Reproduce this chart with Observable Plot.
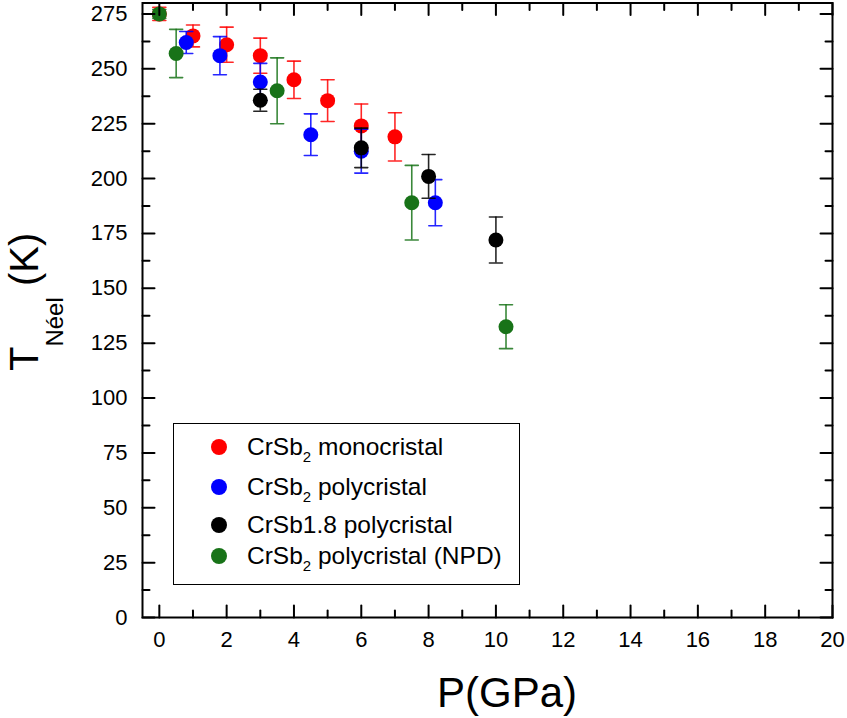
<!DOCTYPE html>
<html><head><meta charset="utf-8">
<script src="https://cdn.jsdelivr.net/npm/d3@7"></script>
<script src="https://cdn.jsdelivr.net/npm/@observablehq/plot@0.6"></script>
<style>
body{margin:0;background:#fff;font-family:"Liberation Sans",Arial,sans-serif;}
#wrap{position:relative;width:847px;height:718px;overflow:hidden;}
#wrap svg{position:absolute;left:0;top:0;}
#legend{position:absolute;left:173px;top:423px;width:347px;height:162px;border:1.2px solid #000;box-sizing:border-box;background:#fff;}
.row{position:absolute;left:0;width:100%;height:0;}
.sw{position:absolute;left:37px;top:-8px;width:16px;height:16px;border-radius:50%;}
.lab{position:absolute;left:73px;top:-14px;white-space:nowrap;font-size:24.5px;line-height:28px;color:#000;}
.lab sub{font-size:15px;vertical-align:-7px;line-height:0;}
</style></head><body><div id="wrap"></div>
<script>
// ---- data ----
const seriesNames = ["CrSb2 monocristal","CrSb2 polycristal","CrSb1.8 polycristal","CrSb2 polycristal (NPD)"];
const legendBase = ["CrSb","CrSb","CrSb1.8","CrSb"];
const legendSub  = ["2","2","","2"];
const legendRest = [" monocristal"," polycristal"," polycristal"," polycristal (NPD)"];
const seriesColors = ["#ff0000","#0000ff","#000000","#187318"];

const monoP   = [0, 1, 2, 3, 4, 5, 6, 7];
const monoT   = [275, 265, 261, 256, 245, 235.5, 224, 219];
const monoErr = [3, 5, 8, 8, 8.5, 9.5, 10, 11];

const polyP   = [0.8, 1.8, 3, 4.5, 6, 8.2];
const polyT   = [262, 256, 244, 220, 212.5, 189];
const polyErr = [5, 8.7, 8.5, 9.5, 10, 10.5];

const sb18P   = [3, 6, 8, 10];
const sb18T   = [235.7, 214, 201, 172];
const sb18Err = [5, 9, 10, 10.5];

const npdP    = [0, 0.5, 3.5, 7.5, 10.3];
const npdT    = [275, 257, 240, 189, 132.5];
const npdErr  = [2, 11, 15, 17, 10];

const xTicks = [0,2,4,6,8,10,12,14,16,18,20];
const xMinor = [1,3,5,7,9,11,13,15,17,19];
const yTicks = [0,25,50,75,100,125,150,175,200,225,250,275];
const yMinor = [12.5,37.5,62.5,87.5,112.5,137.5,162.5,187.5,212.5,237.5,262.5];

// ---- build ----
const seriesP = [monoP, polyP, sb18P, npdP];
const seriesT = [monoT, polyT, sb18T, npdT];
const seriesE = [monoErr, polyErr, sb18Err, npdErr];

const line = {draw(ctx, l){ ctx.moveTo(0,0); ctx.lineTo(0,-l); }};

const marks = [];
seriesNames.forEach((name, s) => {
  const rows = seriesP[s].map((p, i) => ({p, t: seriesT[s][i], lo: seriesT[s][i] - seriesE[s][i], hi: seriesT[s][i] + seriesE[s][i]}));
  const c = seriesColors[s];
  marks.push(Plot.ruleX(rows, {x: "p", y1: "lo", y2: "hi", stroke: c, strokeWidth: 1.6, strokeOpacity: 0.85}));
  marks.push(Plot.vector(rows, {x: "p", y: "lo", rotate: 90, length: 13, anchor: "middle", shape: line, stroke: c, strokeWidth: 1.6, strokeOpacity: 0.85}));
  marks.push(Plot.vector(rows, {x: "p", y: "hi", rotate: 90, length: 13, anchor: "middle", shape: line, stroke: c, strokeWidth: 1.6, strokeOpacity: 0.85}));
  marks.push(Plot.dot(rows, {x: "p", y: "t", r: 7.5, fill: c, stroke: "none"}));
});

const tickStyle = {shape: line, anchor: "start", stroke: "#000", strokeWidth: 2};
const plot = Plot.plot({
  width: 847, height: 718,
  marginLeft: 142, marginRight: 15, marginTop: 2.5, marginBottom: 101,
  style: {fontFamily: "'Liberation Sans', Arial, sans-serif", background: "#fff"},
  x: {domain: [-0.5, 20], label: null},
  y: {domain: [0, 280], label: null},
  marks: [
    ...marks,
    // ticks, inward on all four sides
    Plot.vector(xTicks, {x: d => d, frameAnchor: "bottom", rotate: 0, length: 12, ...tickStyle}),
    Plot.vector(xMinor, {x: d => d, frameAnchor: "bottom", rotate: 0, length: 7, ...tickStyle}),
    Plot.vector(xTicks, {x: d => d, frameAnchor: "top", rotate: 180, length: 12, ...tickStyle}),
    Plot.vector(xMinor, {x: d => d, frameAnchor: "top", rotate: 180, length: 7, ...tickStyle}),
    Plot.vector(yTicks, {y: d => d, frameAnchor: "left", rotate: 90, length: 12, ...tickStyle}),
    Plot.vector(yMinor, {y: d => d, frameAnchor: "left", rotate: 90, length: 7, ...tickStyle}),
    Plot.vector(yTicks, {y: d => d, frameAnchor: "right", rotate: -90, length: 12, ...tickStyle}),
    Plot.vector(yMinor, {y: d => d, frameAnchor: "right", rotate: -90, length: 7, ...tickStyle}),
    Plot.axisX({ticks: xTicks, tickSize: 0, tickPadding: 14, fontSize: 22, label: null, tickFormat: d => String(d)}),
    Plot.axisY({ticks: yTicks, tickSize: 0, tickPadding: 15, fontSize: 22, label: null, tickFormat: d => String(d)}),
    Plot.frame({stroke: "#000", strokeWidth: 2})
  ]
});
document.getElementById("wrap").appendChild(plot);

// axis titles (with subscript)
const svg = d3.select(plot);
svg.append("text")
  .attr("x", 507).attr("y", 707)
  .attr("text-anchor", "middle")
  .attr("font-size", 42).attr("fill", "#000")
  .text("P(GPa)");
const yt = svg.append("text")
  .attr("transform", "translate(38,371) rotate(-90)")
  .attr("text-anchor", "start").attr("font-size", 40).attr("fill", "#000");
yt.append("tspan").text("T");
yt.append("tspan").attr("font-size", 24).attr("dy", 25).text("Néel");
yt.append("tspan").attr("dy", -25).text(" (K)");

// legend
const leg = d3.select("#wrap").append("div").attr("id", "legend");
const rowY = [23, 63, 101, 132];
seriesNames.forEach((name, s) => {
  const r = leg.append("div").attr("class", "row").style("top", rowY[s] + "px");
  r.append("div").attr("class", "sw").style("background", seriesColors[s]);
  const lab = r.append("div").attr("class", "lab");
  lab.append("span").text(legendBase[s]);
  if (legendSub[s]) lab.append("sub").text(legendSub[s]);
  lab.append("span").text(legendRest[s]);
});
</script></body></html>
